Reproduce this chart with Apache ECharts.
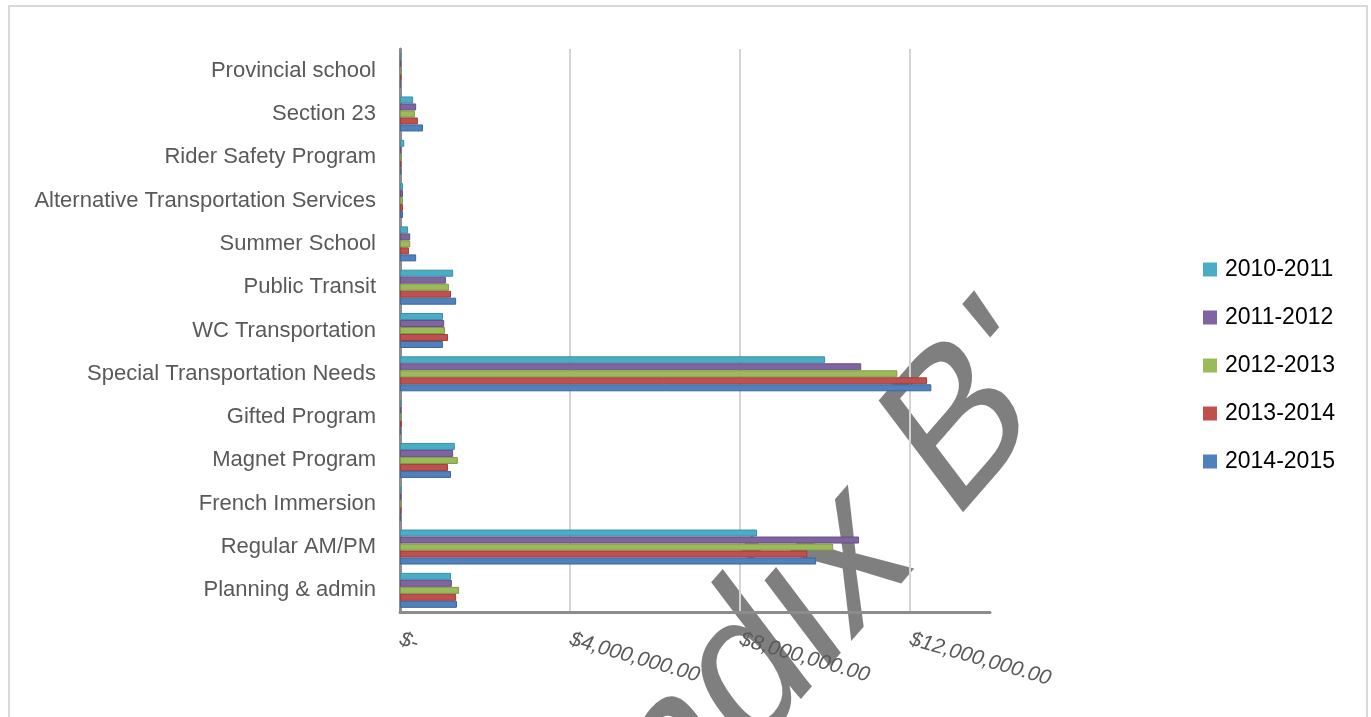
<!DOCTYPE html>
<html>
<head>
<meta charset="utf-8">
<title>Transportation costs</title>
<script src="https://cdn.jsdelivr.net/npm/echarts@6/dist/echarts.min.js"></script>
<style>
  html, body { margin: 0; padding: 0; background: #fff; }
  #main { width: 1371px; height: 717px; }
</style>
</head>
<body>
<div id="main"></div>
<script>
// categories, top to bottom as in the chart
var categories = ['Provincial school', 'Section 23', 'Rider Safety Program',
	'Alternative Transportation Services', 'Summer School', 'Public Transit',
	'WC Transportation', 'Special Transportation Needs', 'Gifted Program',
	'Magnet Program', 'French Immersion', 'Regular AM/PM', 'Planning & admin'];

var years = ['2010-2011', '2011-2012', '2012-2013', '2013-2014', '2014-2015'];
var colors = ['#4bacc6', '#8064a2', '#9bbb59', '#c0504d', '#4f81bd'];
var borders = ['#3b8fa6', '#664f85', '#7e9a45', '#9e3d3a', '#3d679a'];

// values in dollars
var y2010 = [20000, 310000, 100000, 70000, 190000, 1250000, 1010000, 10000000, 30000, 1290000, 30000, 8400000, 1200000];
var y2011 = [20000, 380000, 30000, 70000, 240000, 1080000, 1040000, 10850000, 30000, 1250000, 30000, 10800000, 1220000];
var y2012 = [20000, 350000, 30000, 70000, 240000, 1150000, 1060000, 11700000, 30000, 1360000, 30000, 10190000, 1390000];
var y2013 = [30000, 420000, 30000, 70000, 210000, 1200000, 1130000, 12400000, 40000, 1130000, 30000, 9580000, 1320000];
var y2014 = [20000, 540000, 30000, 70000, 380000, 1320000, 1010000, 12500000, 20000, 1200000, 20000, 9790000, 1340000];
var seriesValues = [y2010, y2011, y2012, y2013, y2014];

var tickStep = 4000000;
var axisMax = 13880000;

function moneyLabel(v) {
	if (v % tickStep !== 0) return '';
	if (v === 0) return '$-';
	return '$' + v.toLocaleString('en-US', { minimumFractionDigits: 2, maximumFractionDigits: 2 });
}

function buildSeries() {
	var list = [];
	for (var i = 0; i < years.length; i++) {
		list.push({
			name: years[i],
			type: 'bar',
			data: seriesValues[i],
			barWidth: 7,
			barGap: '0%',
			itemStyle: {
				color: colors[i],
				borderColor: borders[i],
				borderWidth: 1
			}
		});
	}
	return list;
}

var myChart = echarts.init(document.getElementById('main'));
var option = {
	backgroundColor: '#fff',
	animation: false,
	color: colors,
	textStyle: { fontFamily: 'Liberation Sans' },
	grid: { left: 400, top: 49, width: 590, height: 563, containLabel: false },
	legend: {
		orient: 'vertical',
		left: 1198,
		top: 253,
		icon: 'rect',
		itemWidth: 14,
		itemHeight: 14,
		itemGap: 25,
		data: years,
		itemStyle: { borderWidth: 0 },
		textStyle: { fontSize: 23, color: '#000', fontFamily: 'Liberation Sans', padding: [0, 0, 0, 3] }
	},
	xAxis: {
		type: 'value',
		min: 0,
		max: axisMax,
		interval: tickStep,
		axisLine: { show: true, lineStyle: { color: '#8c8c8c', width: 3 } },
		axisTick: { show: false },
		splitLine: { show: true, showMinLine: false, showMaxLine: false, lineStyle: { color: '#d4d4d4', width: 2 } },
		axisLabel: {
			formatter: moneyLabel,
			rotate: -16,
			margin: 27,
			fontSize: 21,
			fontStyle: 'italic',
			color: '#595959',
			showMaxLabel: false
		}
	},
	yAxis: {
		type: 'category',
		data: categories,
		inverse: true,
		axisLine: { show: true, lineStyle: { color: '#8c8c8c', width: 3 } },
		axisTick: { show: false },
		axisLabel: { margin: 24, fontSize: 22, color: '#595959' }
	},
	series: buildSeries(),
	graphic: [
		{
			// outer frame
			type: 'rect',
			shape: { x: 9, y: 6, width: 1358, height: 730 },
			style: { fill: 'none', stroke: '#d9d9d9', lineWidth: 2 },
			silent: true
		},
		{
			// watermark: diagonal text, stretched vertically like the source
			type: 'group',
			x: 682,
			y: 752,
			scaleY: 1.235,
			z: 100,
			silent: true,
			children: [{
				type: 'text',
				x: 0,
				y: 0,
				rotation: 43 * Math.PI / 180,
				style: {
					text: "Appendix B'",
					font: '180px "Liberation Sans"',
					fill: 'rgba(0,0,0,0.5)',
					textAlign: 'center',
					textVerticalAlign: 'middle'
				}
			}]
		}
	]
};
myChart.setOption(option);
</script>
</body>
</html>
